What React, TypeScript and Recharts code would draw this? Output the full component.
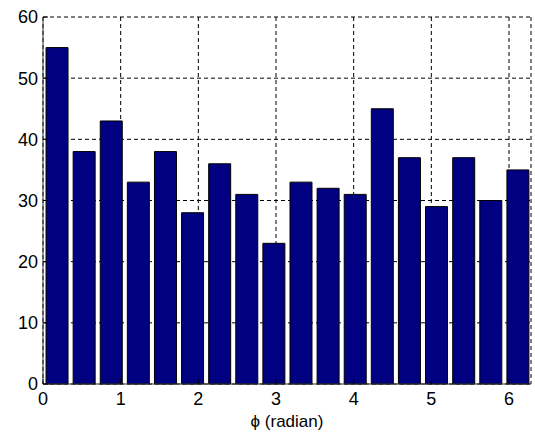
import React from 'react';
import { ComposedChart, Bar, XAxis, YAxis, CartesianGrid } from 'recharts';

// bin centres (radians) of the 18 phase bins
const binCenters = [
  0.175, 0.524, 0.873, 1.222, 1.571, 1.920, 2.269, 2.618, 2.967,
  3.316, 3.665, 4.014, 4.363, 4.712, 5.061, 5.411, 5.760, 6.109,
];
const counts = [55, 38, 43, 33, 38, 28, 36, 31, 23, 33, 32, 31, 45, 37, 29, 37, 30, 35];
const xTicks = [0, 1, 2, 3, 4, 5, 6];
const yTicks = [0, 10, 20, 30, 40, 50, 60];

const data = binCenters.map((phi, i) => ({ phi, count: counts[i] }));

const font = { fontFamily: '"Liberation Sans", Arial, sans-serif', fontSize: 18, fill: '#000' };
const axisColor = '#333';
const X_MAX = 6.2832;

const App: React.FC = () => {
  return (
    <div style={{ position: 'absolute', left: 0, top: 0, background: '#fff' }}>
      <ComposedChart width={535} height={436} data={data} margin={{ top: 17, right: 4, bottom: 0, left: 0 }}>
        <CartesianGrid strokeDasharray="4 3" stroke="#000" />
        <XAxis
          dataKey="phi"
          type="number"
          domain={[0, X_MAX]}
          ticks={xTicks}
          interval={0}
          height={52}
          tickSize={-5}
          tickMargin={13}
          tick={font}
          stroke={axisColor}
          tickLine={{ stroke: '#000' }}
          label={{
            value: 'ϕ (radian)',
            position: 'insideBottom',
            offset: 9,
            style: { ...font, fontSize: 17 },
          }}
        />
        <XAxis
          xAxisId="top"
          orientation="top"
          type="number"
          domain={[0, X_MAX]}
          ticks={xTicks}
          interval={0}
          height={0}
          tickSize={-5}
          tick={false}
          stroke={axisColor}
          tickLine={{ stroke: '#000' }}
        />
        <YAxis
          type="number"
          domain={[0, 60]}
          ticks={yTicks}
          interval={0}
          width={43}
          tickSize={-5}
          tickMargin={10}
          tick={font}
          stroke={axisColor}
          tickLine={{ stroke: '#000' }}
        />
        <YAxis
          yAxisId="right"
          orientation="right"
          type="number"
          domain={[0, 60]}
          ticks={yTicks}
          interval={0}
          width={0}
          tickSize={-5}
          tick={false}
          stroke={axisColor}
          tickLine={{ stroke: '#000' }}
        />
        <Bar dataKey="count" fill="#000080" stroke="#000" strokeWidth={1} barSize={22} isAnimationActive={false} />
      </ComposedChart>
    </div>
  );
};

export default App;
